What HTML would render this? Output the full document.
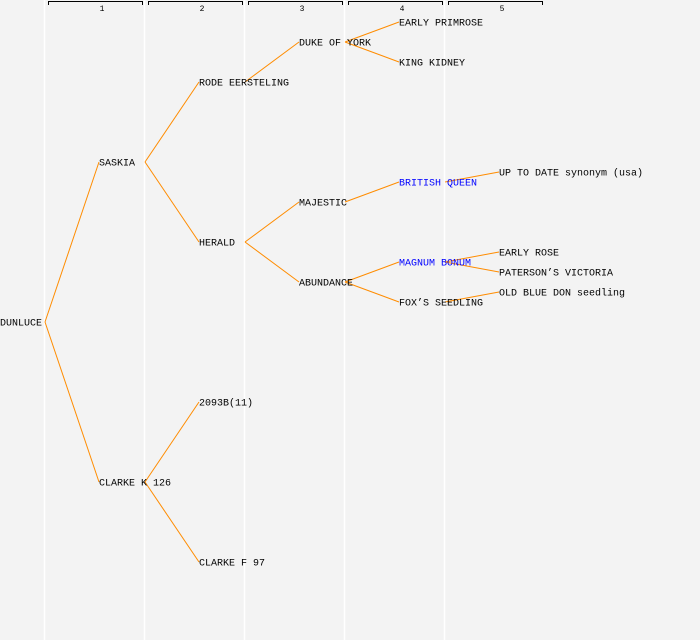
<!DOCTYPE html>
<html><head><style>
html,body{margin:0;padding:0;background:#f3f3f3;}
svg{display:block;}
text{font-family:"Liberation Mono",monospace;font-size:10px;fill:#000;}
</style></head><body>
<svg width="700" height="640" viewBox="0 0 700 640">
<rect width="700" height="640" fill="#f3f3f3"/>
<g stroke="#ffffff" stroke-width="1.5">
<line x1="44.5" y1="0" x2="44.5" y2="640"/>
<line x1="144.5" y1="0" x2="144.5" y2="640"/>
<line x1="244.5" y1="0" x2="244.5" y2="640"/>
<line x1="344.5" y1="0" x2="344.5" y2="640"/>
<line x1="444.5" y1="0" x2="444.5" y2="640"/>
</g>
<g stroke="#000" stroke-width="1" fill="none">
<path d="M48.5 5V1.5H142.5V5"/>
<path d="M148.5 5V1.5H242.5V5"/>
<path d="M248.5 5V1.5H342.5V5"/>
<path d="M348.5 5V1.5H442.5V5"/>
<path d="M448.5 5V1.5H542.5V5"/>
</g>
<g text-anchor="middle">
<text x="102" y="11" style="font-size:8px">1</text>
<text x="202" y="11" style="font-size:8px">2</text>
<text x="302" y="11" style="font-size:8px">3</text>
<text x="402" y="11" style="font-size:8px">4</text>
<text x="502" y="11" style="font-size:8px">5</text>
</g>
<g stroke="#ff8c00" stroke-width="1" fill="none">
<line x1="45" y1="322" x2="99" y2="162"/>
<line x1="45" y1="322" x2="99" y2="482"/>
<line x1="145" y1="162" x2="199" y2="82"/>
<line x1="145" y1="162" x2="199" y2="242"/>
<line x1="145" y1="482" x2="199" y2="402"/>
<line x1="145" y1="482" x2="199" y2="562"/>
<line x1="245" y1="82" x2="299" y2="42"/>
<line x1="245" y1="242" x2="299" y2="202"/>
<line x1="245" y1="242" x2="299" y2="282"/>
<line x1="345" y1="42" x2="399" y2="22"/>
<line x1="345" y1="42" x2="399" y2="62"/>
<line x1="345" y1="202" x2="399" y2="182"/>
<line x1="345" y1="282" x2="399" y2="262"/>
<line x1="345" y1="282" x2="399" y2="302"/>
<line x1="445" y1="182" x2="499" y2="172"/>
<line x1="445" y1="262" x2="499" y2="252"/>
<line x1="445" y1="262" x2="499" y2="272"/>
<line x1="445" y1="302" x2="499" y2="292"/>
</g>
<g>
<text x="0" y="325.5">DUNLUCE</text>
<text x="99" y="165.5">SASKIA</text>
<text x="99" y="485.5">CLARKE K 126</text>
<text x="199" y="85.5">RODE EERSTELING</text>
<text x="199" y="245.5">HERALD</text>
<text x="199" y="405.5">2093B(11)</text>
<text x="199" y="565.5">CLARKE F 97</text>
<text x="299" y="45.5">DUKE OF YORK</text>
<text x="299" y="205.5">MAJESTIC</text>
<text x="299" y="285.5">ABUNDANCE</text>
<text x="399" y="25.5">EARLY PRIMROSE</text>
<text x="399" y="65.5">KING KIDNEY</text>
<text x="399" y="185.5" style="fill:#0000ff">BRITISH QUEEN</text>
<text x="399" y="265.5" style="fill:#0000ff">MAGNUM BONUM</text>
<text x="399" y="305.5">FOX’S SEEDLING</text>
<text x="499" y="175.5">UP TO DATE synonym (usa)</text>
<text x="499" y="255.5">EARLY ROSE</text>
<text x="499" y="275.5">PATERSON’S VICTORIA</text>
<text x="499" y="295.5">OLD BLUE DON seedling</text>
</g>
</svg>
</body></html>
